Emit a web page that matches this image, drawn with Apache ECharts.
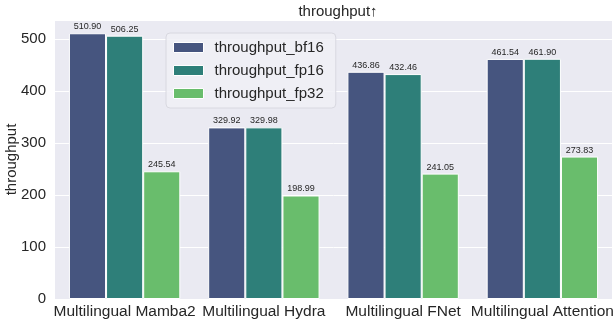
<!DOCTYPE html>
<html>
<head>
<meta charset="utf-8">
<script src="https://cdn.jsdelivr.net/npm/echarts@6/dist/echarts.min.js"></script>
<style>
html, body { margin: 0; padding: 0; background: #fff; }
#main { width: 614px; height: 322px; }
</style>
</head>
<body>
<div id="main"></div>
<script>
var categories = ['Multilingual Mamba2', 'Multilingual Hydra', 'Multilingual FNet', 'Multilingual Attention'];
var bf16 = [510.90, 329.92, 436.86, 461.54];
var fp16 = [506.25, 329.98, 432.46, 461.90];
var fp32 = [245.54, 198.99, 241.05, 273.83];
var seriesNames = ['throughput_bf16', 'throughput_fp16', 'throughput_fp32'];
var colors = ['#46557f', '#2e7f79', '#69bd6c'];

var font = 'Liberation Sans, Arial, sans-serif';
var chart = echarts.init(document.getElementById('main'));

function makeSeries(name, data, color) {
    return {
        name: name,
        type: 'bar',
        data: data,
        barGap: '0%',
        barCategoryGap: '20%',
        itemStyle: {
            color: color,
            borderColor: '#ffffff',
            borderWidth: 1
        },
        label: {
            show: true,
            position: 'top',
            distance: 2,
            fontFamily: font,
            fontSize: 9,
            color: '#262626',
            formatter: function (p) { return p.value.toFixed(2); }
        }
    };
}

var opts = {
    backgroundColor: '#ffffff',
    title: {
        text: 'throughput\u2191',
        left: 333,
        textAlign: 'center',
        top: -1,
        textStyle: { fontFamily: font, fontSize: 15, fontWeight: 'normal', color: '#262626' }
    },
    grid: {
        left: 55,
        right: 2,
        top: 20,
        bottom: 23,
        outerBoundsMode: 'none',
        containLabel: false,
        show: true,
        backgroundColor: '#eaeaf2',
        borderWidth: 0
    },
    legend: {
        orient: 'vertical',
        left: 166,
        top: 33,
        padding: [7, 12, 7, 7],
        itemGap: 8,
        itemWidth: 30,
        itemHeight: 10,
        icon: 'rect',
        backgroundColor: 'rgba(240,240,246,0.85)',
        borderColor: '#d8d8e0',
        borderWidth: 1,
        borderRadius: 4,
        itemStyle: { borderColor: '#ffffff', borderWidth: 1 },
        textStyle: { fontFamily: font, fontSize: 15, color: '#262626', padding: [0, 0, 0, 6] },
        data: seriesNames
    },
    xAxis: {
        type: 'category',
        data: categories,
        axisLine: { show: false },
        axisTick: { show: false },
        axisLabel: { fontFamily: font, fontSize: 15.5, color: '#262626', margin: 5, interval: 0 }
    },
    yAxis: {
        type: 'value',
        name: 'throughput',
        nameLocation: 'middle',
        nameGap: 36,
        nameMoveOverlap: false,
        nameTextStyle: { fontFamily: font, fontSize: 15, color: '#262626' },
        min: 0,
        max: 536.4,
        interval: 100,
        axisLine: { show: false },
        axisTick: { show: false },
        axisLabel: { fontFamily: font, fontSize: 15, color: '#262626', margin: 9, showMaxLabel: false },
        splitLine: { lineStyle: { color: '#ffffff', width: 1 } }
    },
    series: [
        makeSeries(seriesNames[0], bf16, colors[0]),
        makeSeries(seriesNames[1], fp16, colors[1]),
        makeSeries(seriesNames[2], fp32, colors[2])
    ]
};

chart.setOption(opts);
</script>
</body>
</html>
